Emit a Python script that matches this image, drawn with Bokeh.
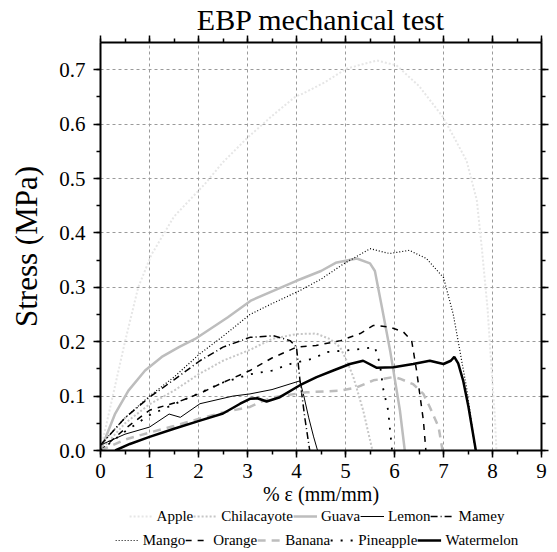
from bokeh.plotting import figure
from bokeh.layouts import column
from bokeh.models import (ColumnDataSource, Range1d, LinearAxis, SingleIntervalTicker,
                          NumeralTickFormatter, Legend, LegendItem, CustomJSTickFormatter)
from bokeh.embed import file_html
from bokeh.resources import INLINE

# ---- data (strain %, stress MPa) ----
apple_x = [0, 0.1, 0.25, 0.5, 0.77, 1.04, 1.5, 2.13, 2.5, 3.0, 3.5, 3.97, 4.13, 4.58, 5.02, 5.64, 6.04, 6.5, 6.99, 7.47, 7.68, 7.78, 7.9, 7.98, 8.05, 8.08]
apple_y = [0, 0.04, 0.1, 0.2, 0.3, 0.36, 0.43, 0.49, 0.53, 0.575, 0.615, 0.65, 0.656, 0.677, 0.702, 0.717, 0.708, 0.67, 0.613, 0.533, 0.46, 0.374, 0.26, 0.15, 0.06, 0.0]

chila_x = [0, 0.5, 1.0, 1.5, 2.0, 2.5, 3.05, 3.5, 4.0, 4.4, 4.68, 4.89, 5.05, 5.16, 5.36, 5.55]
chila_y = [0, 0.05, 0.085, 0.11, 0.14, 0.165, 0.185, 0.205, 0.214, 0.215, 0.205, 0.19, 0.16, 0.135, 0.074, 0.0]

guava_x = [0, 0.3, 0.57, 0.91, 1.25, 1.6, 1.93, 2.6, 3.08, 4.0, 4.5, 4.8, 5.23, 5.5, 5.6, 5.75, 5.91, 6.11, 6.21]
guava_y = [0, 0.068, 0.11, 0.147, 0.172, 0.19, 0.205, 0.245, 0.276, 0.312, 0.33, 0.345, 0.353, 0.344, 0.33, 0.26, 0.184, 0.074, 0.0]

lemon_x = [0, 0.5, 1.0, 1.4, 1.63, 2.03, 2.7, 3.05, 3.5, 4.07, 4.15, 4.25, 4.35, 4.43]
lemon_y = [0.01, 0.03, 0.043, 0.067, 0.061, 0.086, 0.1, 0.104, 0.112, 0.128, 0.1, 0.06, 0.025, 0.0]

mamey_x = [0, 0.5, 1.0, 1.5, 2.03, 2.5, 3.05, 3.53, 3.87, 4.0, 4.07, 4.17, 4.27]
mamey_y = [0.01, 0.06, 0.098, 0.13, 0.165, 0.19, 0.208, 0.211, 0.202, 0.19, 0.13, 0.06, 0.0]

mango_x = [0, 0.5, 1.0, 1.5, 2.03, 2.5, 3.05, 3.5, 4.07, 4.5, 4.96, 5.5, 5.9, 6.3, 6.65, 7.0, 7.2, 7.47, 7.65]
mango_y = [0.01, 0.06, 0.1, 0.135, 0.178, 0.21, 0.25, 0.27, 0.294, 0.315, 0.343, 0.371, 0.362, 0.368, 0.353, 0.318, 0.25, 0.116, 0.0]

orange_x = [0, 0.5, 1.0, 1.6, 2.03, 2.5, 3.05, 3.5, 4.0, 4.4, 4.9, 5.3, 5.57, 5.9, 6.18, 6.35, 6.45, 6.59, 6.64]
orange_y = [0, 0.04, 0.074, 0.09, 0.105, 0.125, 0.147, 0.17, 0.19, 0.193, 0.202, 0.215, 0.23, 0.227, 0.218, 0.202, 0.147, 0.055, 0.0]

banana_x = [0, 0.5, 1.0, 1.5, 2.0, 2.5, 3.05, 3.26, 3.53, 4.2, 4.9, 5.23, 5.57, 5.98, 6.11, 6.38, 6.59, 6.72, 6.9, 6.98]
banana_y = [0, 0.02, 0.033, 0.045, 0.058, 0.07, 0.08, 0.089, 0.098, 0.107, 0.11, 0.116, 0.129, 0.135, 0.132, 0.122, 0.104, 0.08, 0.043, 0.0]

pine_x = [0, 0.5, 1.0, 1.5, 2.0, 2.5, 3.05, 3.5, 3.87, 4.34, 4.62, 5.02, 5.36, 5.6, 5.7, 5.77, 5.87, 5.95]
pine_y = [0, 0.035, 0.065, 0.085, 0.105, 0.125, 0.14, 0.147, 0.159, 0.169, 0.181, 0.184, 0.187, 0.19, 0.16, 0.113, 0.074, 0.0]

water_x = [0.3, 0.6, 1.0, 1.5, 2.03, 2.5, 2.85, 3.05, 3.2, 3.39, 3.66, 4.07, 4.41, 4.75, 5.09, 5.36, 5.64, 5.98, 6.38, 6.72, 7.0, 7.15, 7.22, 7.3, 7.4, 7.51, 7.66]
water_y = [0, 0.012, 0.025, 0.04, 0.055, 0.068, 0.086, 0.095, 0.096, 0.09, 0.098, 0.12, 0.135, 0.147, 0.159, 0.165, 0.152, 0.153, 0.159, 0.165, 0.159, 0.165, 0.172, 0.16, 0.129, 0.08, 0.0]

names = ["Apple", "Chilacayote", "Guava", "Lemon", "Mamey",
         "Mango", "Orange", "Banana", "Pineapple", "Watermelon"]
xs = [apple_x, chila_x, guava_x, lemon_x, mamey_x, mango_x, orange_x, banana_x, pine_x, water_x]
ys = [apple_y, chila_y, guava_y, lemon_y, mamey_y, mango_y, orange_y, banana_y, pine_y, water_y]

styles = {
    "Apple":       dict(line_color="#e6e6e6", line_width=2.0, line_dash="2 2"),
    "Chilacayote": dict(line_color="#c6c6c6", line_width=2.0, line_dash="2 2"),
    "Guava":       dict(line_color="#bdbdbd", line_width=2.5, line_dash="solid"),
    "Lemon":       dict(line_color="black", line_width=1.0, line_dash="solid"),
    "Mamey":       dict(line_color="black", line_width=1.5, line_dash="7 3 1 3"),
    "Mango":       dict(line_color="black", line_width=1.2, line_dash="1 2"),
    "Orange":      dict(line_color="black", line_width=1.5, line_dash="6 6"),
    "Banana":      dict(line_color="#bdbdbd", line_width=2.5, line_dash="8 6"),
    "Pineapple":   dict(line_color="black", line_width=1.8, line_dash="2 8"),
    "Watermelon":  dict(line_color="black", line_width=2.5, line_dash="solid"),
}

FONT = "Liberation Serif"

p = figure(frame_width=441, frame_height=408, output_backend="svg", toolbar_location=None,
           x_range=Range1d(0, 9), y_range=Range1d(0, 0.75),
           min_border_left=100, min_border_right=8, min_border_top=34, min_border_bottom=0,
           title="EBP mechanical test", x_axis_label="% ε (mm/mm)", y_axis_label="Stress (MPa)")

p.title.text_font = FONT
p.title.text_font_size = "30px"
p.title.text_font_style = "normal"
p.title.text_color = "black"
p.title.align = "center"
p.title.standoff = 0
p.title.offset = 0

p.outline_line_color = None

xt = SingleIntervalTicker(interval=1, num_minor_ticks=2)
yt = SingleIntervalTicker(interval=0.1, num_minor_ticks=2)

for ax in [p.xaxis[0], p.yaxis[0]]:
    ax.axis_line_width = 2
    ax.major_tick_line_width = 1.5
    ax.minor_tick_line_width = 1.5
    ax.major_tick_in = 0
    ax.major_tick_out = 7
    ax.minor_tick_in = 0
    ax.minor_tick_out = 4
    ax.major_label_text_font = FONT
    ax.major_label_text_font_size = "21px"
    ax.major_label_text_color = "black"
    ax.axis_label_text_font = FONT
    ax.axis_label_text_font_style = "normal"
    ax.axis_label_text_color = "black"

p.xaxis[0].ticker = xt
p.yaxis[0].ticker = yt
p.yaxis[0].formatter = NumeralTickFormatter(format="0.0")
p.xaxis[0].major_label_standoff = 6
p.xaxis[0].axis_label_text_font_size = "20px"
p.xaxis[0].axis_label_standoff = 2
p.yaxis[0].major_label_standoff = 8
p.yaxis[0].axis_label_text_font_size = "31px"
p.yaxis[0].axis_label_standoff = 12

blank = CustomJSTickFormatter(code="return ''")
top = LinearAxis(ticker=xt, formatter=blank)
right = LinearAxis(ticker=yt, formatter=blank)
for ax in [top, right]:
    ax.axis_line_width = 2
    ax.major_tick_line_width = 1.5
    ax.minor_tick_line_width = 1.5
    ax.major_tick_in = 0
    ax.major_tick_out = 7
    ax.minor_tick_in = 0
    ax.minor_tick_out = 4
    ax.major_label_standoff = 0
p.add_layout(top, "above")
p.add_layout(right, "right")

for g in [p.xgrid[0], p.ygrid[0]]:
    g.grid_line_color = "#9a9a9a"
    g.grid_line_dash = "3 3"
    g.grid_line_width = 1
p.xgrid[0].ticker = xt
p.ygrid[0].ticker = yt

sources = {}
for name, x, y in zip(names, xs, ys):
    sources[name] = ColumnDataSource(dict(x=x, y=y))
    p.line("x", "y", source=sources[name], **styles[name])

# ---- legend strip below the chart (same series, same styles) ----
lf = figure(width=541, height=42, output_backend="svg", toolbar_location=None,
            x_range=Range1d(100, 101), y_range=Range1d(100, 101),
            x_axis_location=None, y_axis_location=None, min_border=0)
lf.grid.visible = False
lf.outline_line_color = None

lrend = {}
for name in names:
    lrend[name] = lf.line("x", "y", source=sources[name], **styles[name])

def make_legend(items, loc):
    lg = Legend(items=[LegendItem(label=n, renderers=[lrend[n]]) for n in items],
                orientation="horizontal", location=loc)
    lg.label_text_font = FONT
    lg.label_text_font_size = "15px"
    lg.label_text_color = "black"
    lg.glyph_width = 24
    lg.glyph_height = 16
    lg.label_height = 18
    lg.label_standoff = 4
    lg.spacing = 0
    lg.padding = 0
    lg.margin = 0
    lg.border_line_color = None
    lg.background_fill_alpha = 0
    return lg

lf.add_layout(make_legend(names[:5], "top_center"), "center")
lf.add_layout(make_legend(names[5:], "bottom_center"), "center")

open("out.html", "w").write(file_html(column(p, lf), INLINE))
